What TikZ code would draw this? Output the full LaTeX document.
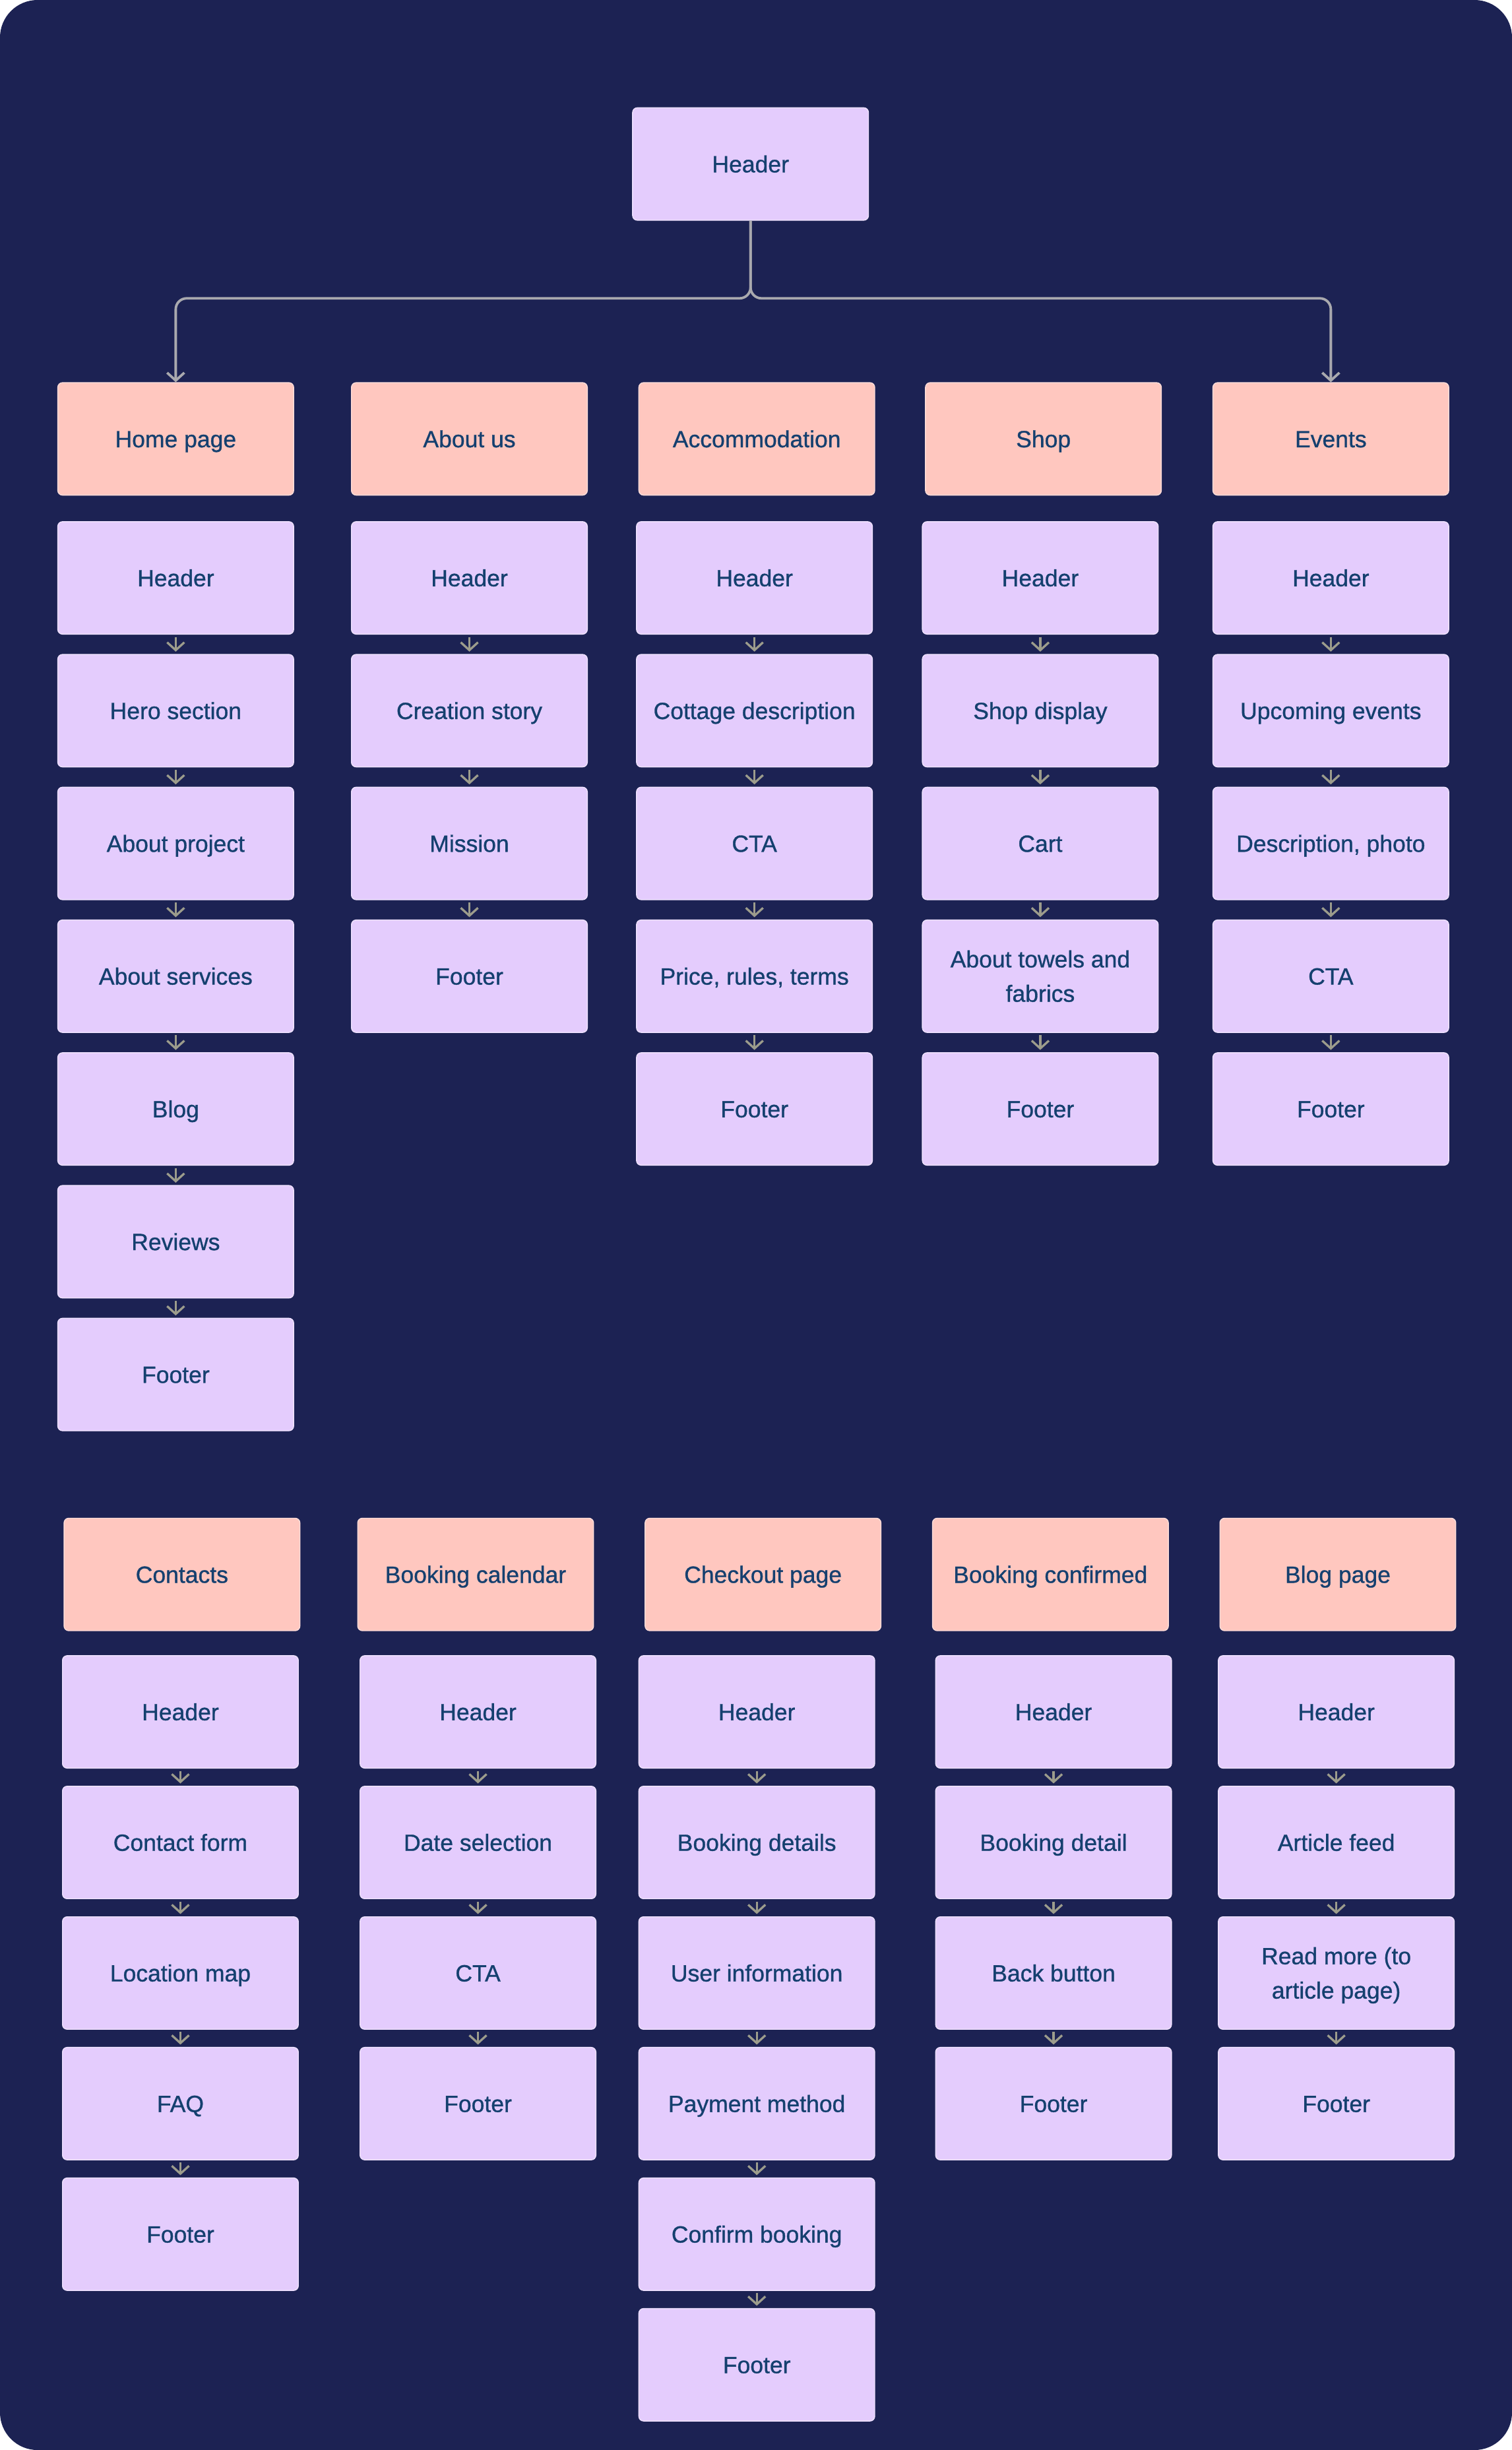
\documentclass[tikz,border=0pt]{standalone}
\usepackage{fontspec}
\setmainfont{Liberation Sans}
\newfontfamily\boxfont{Liberation Sans}[FakeBold=0.9]
\usetikzlibrary{arrows.meta}
\definecolor{bg}{HTML}{1C2253}
\definecolor{lav}{HTML}{E4CCFD}
\definecolor{salmon}{HTML}{FFC7BF}
\definecolor{txt}{HTML}{15406F}
\definecolor{conn}{HTML}{A9A9AE}
\definecolor{sarrow}{HTML}{9C9C8C}
\definecolor{edgec}{HTML}{EFE2FF}
\newcommand\ms{\rule[-3.3pt]{0pt}{17.3pt}}
\newcommand\mkcol[5]{%
  \foreach \t [count=\i] in {#5} {\node[itembox] (#1\i) at (#2,{#3+#4*(\i-1)}) {\ms\t\ms};}%
  \foreach \t [count=\i] in {#5} {\ifnum\i>1 \pgfmathtruncatemacro\k{\i-1}\draw[sub] (#1\k.south) -- (#1\i.north);\fi}%
}
\begin{document}
\begin{tikzpicture}[x=1pt,y=-1pt,
  box/.style={minimum width=151pt,minimum height=72pt,rounded corners=3pt,inner sep=2pt,
    align=center,text=txt,font=\boxfont\fontsize{15}{22}\selectfont,line width=0.6pt},
  itembox/.style={box,fill=lav,draw=edgec},
  catbox/.style={box,fill=salmon,draw=salmon!60!white},
  link/.style={draw=conn,line width=1.6pt,rounded corners=7pt,-{Straight Barb[length=5pt,width=11pt]}},
  sub/.style={draw=sarrow,line width=1.4pt,-{Straight Barb[length=5pt,width=11pt]},shorten <=1.5pt,shorten >=1.5pt}]
\fill[white] (0,0) rectangle (968,1568.57);
\fill[bg,rounded corners=24pt] (0,0) rectangle (968,1568.57);
\useasboundingbox (0,0) rectangle (968,1568.57);

% top header
\node[itembox] (top) at (480.5,105) {\ms Header};

% categories top
\node[catbox] (ca) at (112.5,281) {\ms Home page};
\node[catbox] (cb) at (300.5,281) {\ms About us};
\node[catbox] (cc) at (484.5,281) {\ms Accommodation};
\node[catbox] (cd) at (668,281) {\ms Shop};
\node[catbox] (ce) at (852,281) {\ms Events};

\coordinate (jn) at (480.5,191);
\draw[link] (top.south) -- (jn) -| (ca.north);
\draw[link] (top.south) -- (jn) -| (ce.north);

\mkcol{a}{112.5}{370}{85}{Header,Hero section,About project,About services,Blog,Reviews,Footer}
\mkcol{b}{300.5}{370}{85}{Header,Creation story,Mission,Footer}
\mkcol{c}{483}{370}{85}{Header,Cottage description,CTA,{Price, rules, terms},Footer}
\mkcol{d}{666}{370}{85}{Header,Shop display,Cart,{About towels and\\fabrics},Footer}
\mkcol{e}{852}{370}{85}{Header,Upcoming events,{Description, photo},CTA,Footer}

% categories bottom
\node[catbox] (cf) at (116.5,1008) {\ms Contacts};
\node[catbox] (cg) at (304.5,1008) {\ms Booking calendar};
\node[catbox] (ch) at (488.5,1008) {\ms Checkout page};
\node[catbox] (ci) at (672.5,1008) {\ms Booking confirmed};
\node[catbox] (cj) at (856.5,1008) {\ms Blog page};

\mkcol{f}{115.5}{1096}{83.6}{Header,Contact form,Location map,FAQ,Footer}
\mkcol{g}{306}{1096}{83.6}{Header,Date selection,CTA,Footer}
\mkcol{h}{484.5}{1096}{83.6}{Header,Booking details,User information,Payment method,Confirm booking,Footer}
\mkcol{i}{674.5}{1096}{83.6}{Header,Booking detail,Back button,Footer}
\mkcol{j}{855.5}{1096}{83.6}{Header,Article feed,{Read more (to\\article page)},Footer}
\end{tikzpicture}
\end{document}
